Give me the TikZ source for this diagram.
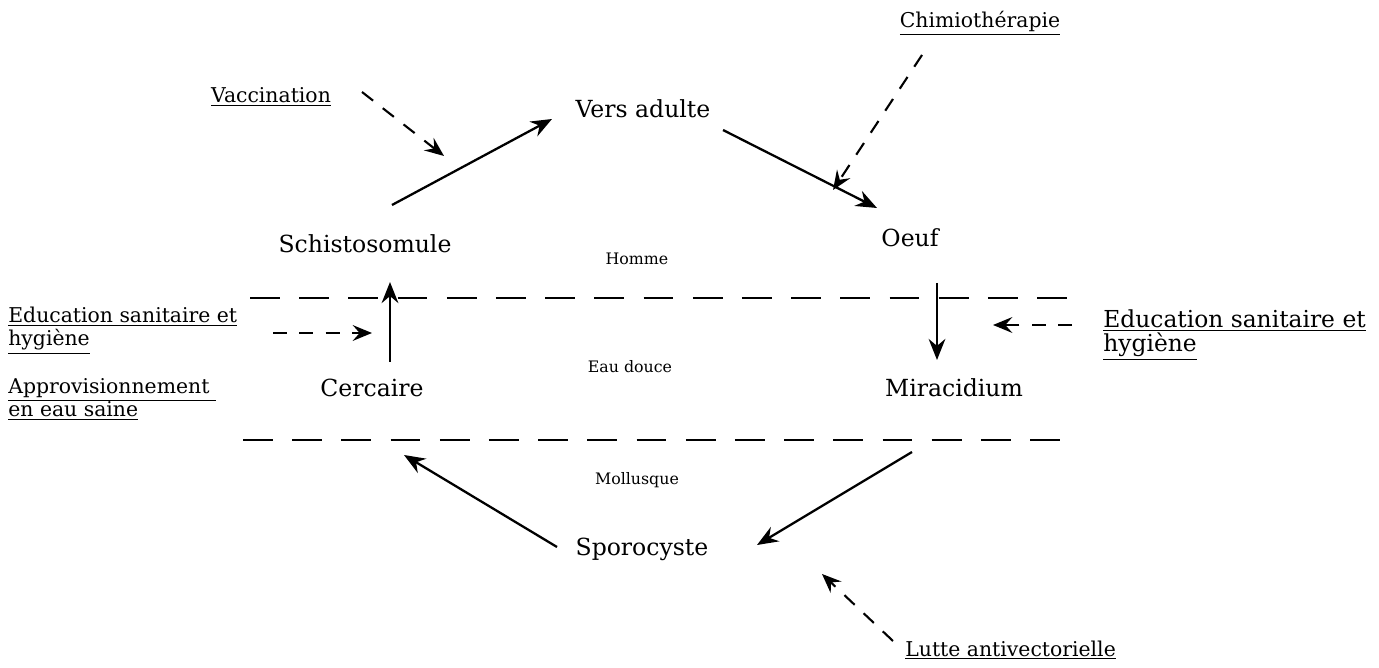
\documentclass[tikz,border=0pt]{standalone}
\usepackage{fontspec}
\setmainfont{DejaVu Serif}
\usetikzlibrary{arrows.meta}
\tikzset{
  stage/.style={font=\fontsize{13.4}{16}\selectfont, inner sep=0pt, anchor=base},
  host/.style={font=\fontsize{9}{11}\selectfont, inner sep=0pt, anchor=base},
  ctrl/.style={font=\fontsize{11.6}{13.4}\selectfont, inner sep=0pt, anchor=base west, align=left},
  cycle/.style={line width=1.3pt, -{Stealth[length=12pt,width=9.5pt,inset=4pt]}},
  action/.style={line width=1.2pt, dash pattern=on 8pt off 7pt, -{Stealth[length=11pt,width=9pt,inset=4pt]}},
  divider/.style={line width=1.2pt, dash pattern=on 17pt off 11pt}
}
\begin{document}
\begin{tikzpicture}[x=0.02cm, y=-0.02cm]
\useasboundingbox (0,0) rectangle (1379,668);
% stages
\node[stage] (vers) at (643,118) {Vers adulte};
\node[stage] (schisto) at (365,253) {Schistosomule};
\node[stage] (oeuf) at (910,247) {Oeuf};
\node[stage] (cerc) at (372,397) {Cercaire};
\node[stage] (mira) at (954,397) {Miracidium};
\node[stage] (sporo) at (642,555) {Sporocyste};
% hosts
\node[host] (homme) at (637,265) {Homme};
\node[host] (eau) at (630,373) {Eau douce};
\node[host] (moll) at (637,485) {Mollusque};
% control measures
\node[ctrl, anchor=base] (vacc) at (271,103) {\underline{Vaccination}};
\node[ctrl, anchor=base] (chimio) at (980,28) {\underline{Chimiothérapie}};
\node[ctrl] (eduL) at (8,346) {\underline{Education sanitaire et}\\[0pt]\underline{hygiène}};
\node[ctrl] (appro) at (8,417) {\underline{Approvisionnement\ }\\[0pt]\underline{en eau saine}};
\node[ctrl, font=\fontsize{13.3}{15}\selectfont] (eduR) at (1103,352) {\underline{Education sanitaire et}\\[-1pt]\underline{hygiène}};
\node[ctrl] (lutte) at (905,656) {\underline{Lutte antivectorielle}};
% dividers
\draw[divider] (250,298) -- (1083,298);
\draw[divider] (243,440) -- (1078,440);
% cycle endpoints
\coordinate (s1) at (392,205); \coordinate (v1) at (552,119);
\coordinate (v2) at (723,130); \coordinate (o1) at (877,208);
\coordinate (o2) at (937,283); \coordinate (m1) at (937,360);
\coordinate (m2) at (912,452); \coordinate (p1) at (757,545);
\coordinate (p2) at (557,547); \coordinate (c1) at (404,455);
\coordinate (c2) at (390,362); \coordinate (s2) at (390,282);
\draw[cycle] (s1) -- (v1);
\draw[cycle] (v2) -- (o1);
\draw[cycle] (o2) -- (m1);
\draw[cycle] (m2) -- (p1);
\draw[cycle] (p2) -- (c1);
\draw[cycle] (c2) -- (s2);
% control arrows
\coordinate (a1) at (362,92); \coordinate (a2) at (444,156);
\coordinate (b1) at (922,55); \coordinate (b2) at (833,190);
\coordinate (e1) at (273,333); \coordinate (e2) at (372,333);
\coordinate (f1) at (1072,325); \coordinate (f2) at (993,325);
\coordinate (l1) at (893,641); \coordinate (l2) at (822,574);
\draw[action] (a1) -- (a2);
\draw[action] (b1) -- (b2);
\draw[action] (e1) -- (e2);
\draw[action] (f1) -- (f2);
\draw[action] (l1) -- (l2);
\end{tikzpicture}
\end{document}
